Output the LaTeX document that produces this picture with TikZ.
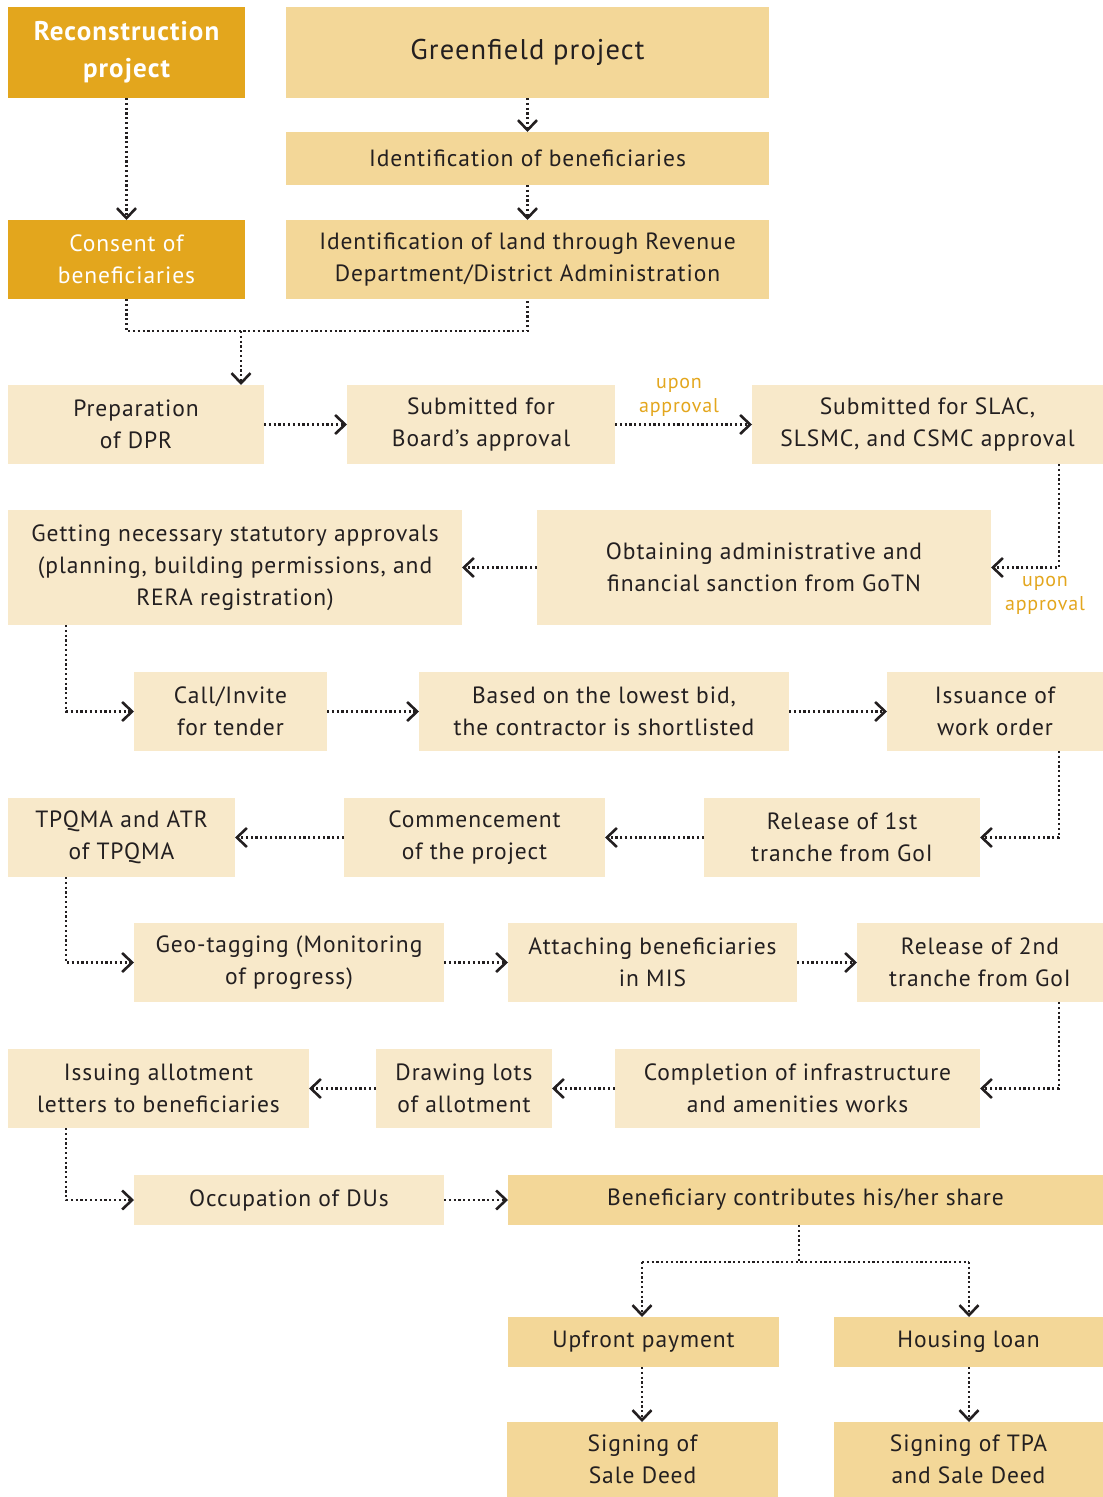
\documentclass[tikz,border=0pt]{standalone}
\usepackage{fontspec}
\setmainfont{PT Sans}[LetterSpace=4]
\usetikzlibrary{arrows.meta}
\definecolor{dark}{HTML}{E3A61D}
\definecolor{mid}{HTML}{F3D798}
\definecolor{pale}{HTML}{F8E9CA}
\definecolor{ink}{HTML}{231F20}
\tikzset{
  x=1pt,y=-1pt,
  base/.style={inner sep=0pt, outer sep=0pt, align=center, text=ink,
    font=\fontsize{23.5}{32}\selectfont},
  palebox/.style={base, fill=pale},
  midbox/.style={base, fill=mid},
  darkbox/.style={base, fill=dark, text=white},
  dots/.style={draw=ink, line width=2.2pt, dash pattern=on 2.2pt off 2.6pt},
  arr/.style={dots, -{Straight Barb[length=10pt,width=19pt,line width=2.6pt]}},
  lbl/.style={text=dark, font=\fontsize{20}{24}\selectfont, align=center, inner sep=0pt}
}
\begin{document}
\begin{tikzpicture}
\useasboundingbox (0,0) rectangle (1103,1497);
% row 1
\node[darkbox, minimum width=237pt, minimum height=91pt, font=\fontsize{27}{37}\selectfont\bfseries] (recon) at (126.5,52.5) {Reconstruction\\project};
\node[midbox, minimum width=483pt, minimum height=91pt, font=\fontsize{28.5}{34}\selectfont] (green) at (527.5,52.5) {Greenfield project};
\node[midbox, minimum width=483pt, minimum height=53pt] (idben) at (527.5,158.5) {Identification of beneficiaries};
\node[midbox, minimum width=483pt, minimum height=79pt] (idland) at (527.5,259.5) {Identification of land through Revenue\\Department/District Administration};
\node[darkbox, minimum width=237pt, minimum height=79pt] (consent) at (126.5,259.5) {Consent of\\beneficiaries};
% row DPR
\node[palebox, minimum width=256pt, minimum height=79pt] (prep) at (136,424.5) {Preparation\\of DPR};
\node[palebox, minimum width=268pt, minimum height=79pt] (board) at (481,424.5) {Submitted for\\Board’s approval};
\node[palebox, minimum width=351pt, minimum height=79pt] (slac) at (927.5,424.5) {Submitted for SLAC,\\SLSMC, and CSMC approval};
% row approvals
\node[palebox, minimum width=454pt, minimum height=115pt] (stat) at (235,567.5) {Getting necessary statutory approvals\\(planning, building permissions, and\\RERA registration)};
\node[palebox, minimum width=454pt, minimum height=115pt] (obtain) at (764,567.5) {Obtaining administrative and\\financial sanction from GoTN};
% row tender
\node[palebox, minimum width=193pt, minimum height=79pt] (call) at (230.5,711.5) {Call/Invite\\for tender};
\node[palebox, minimum width=370pt, minimum height=79pt] (based) at (604,711.5) {Based on the lowest bid,\\the contractor is shortlisted};
\node[palebox, minimum width=216pt, minimum height=79pt] (issu) at (995,711.5) {Issuance of\\work order};
% row release 1
\node[palebox, minimum width=227pt, minimum height=79pt] (tpqma) at (121.5,837.5) {TPQMA and ATR\\of TPQMA};
\node[palebox, minimum width=261pt, minimum height=79pt] (comm) at (474.5,837.5) {Commencement\\of the project};
\node[palebox, minimum width=276pt, minimum height=79pt] (rel1) at (842,837.5) {Release of 1st\\tranche from GoI};
% row geo
\node[palebox, minimum width=310pt, minimum height=79pt] (geo) at (289,962.5) {Geo-tagging (Monitoring\\of progress)};
\node[palebox, minimum width=289pt, minimum height=79pt] (attach) at (652.5,962.5) {Attaching beneficiaries\\in MIS};
\node[palebox, minimum width=246pt, minimum height=79pt] (rel2) at (980,962.5) {Release of 2nd\\tranche from GoI};
% row allotment
\node[palebox, minimum width=301pt, minimum height=79pt] (issuing) at (158.5,1088.5) {Issuing allotment\\letters to beneficiaries};
\node[palebox, minimum width=176pt, minimum height=79pt] (drawing) at (464,1088.5) {Drawing lots\\of allotment};
\node[palebox, minimum width=365pt, minimum height=79pt] (compl) at (797.5,1088.5) {Completion of infrastructure\\and amenities works};
% row occupation
\node[palebox, minimum width=310pt, minimum height=50pt] (occ) at (289,1200) {Occupation of DUs};
\node[midbox, minimum width=595pt, minimum height=50pt] (benef) at (805.5,1200) {Beneficiary contributes his/her share};
% payment
\node[midbox, minimum width=271pt, minimum height=50pt] (upfront) at (643.5,1342) {Upfront payment};
\node[midbox, minimum width=269pt, minimum height=50pt] (housing) at (968.5,1342) {Housing loan};
\node[midbox, minimum width=271pt, minimum height=75pt] (sign1) at (642.5,1459.5) {Signing of\\Sale Deed};
\node[midbox, minimum width=269pt, minimum height=75pt] (sign2) at (968.5,1459.5) {Signing of TPA\\and Sale Deed};

% connectors top
\draw[arr] (recon.south) -- (consent.north);
\draw[arr] (green.south) -- (idben.north);
\draw[arr] (idben.south) -- (idland.north);
\coordinate (jl) at (126.5,331);
\coordinate (jr) at (527.5,331);
\coordinate (j1) at (241,331);
\draw[dots] (consent.south) -- (jl) -- (jr) -- (idland.south);
\draw[arr] (j1) -- (j1 |- prep.north);
\draw[arr] (prep.east) -- (board.west);
\draw[arr] (board.east) -- (slac.west);
\node[lbl] (up1) at (679,397) {upon\\approval};
% slac -> obtain
\coordinate (s1) at (1059,464);
\coordinate (s2) at (1059,567.5);
\draw[arr] (s1) -- (s2) -- (obtain.east);
\node[lbl] (up2) at (1045,595) {upon\\approval};
\draw[arr] (obtain.west) -- (stat.east);
% stat -> call
\coordinate (t1) at (66,625);
\coordinate (t2) at (66,711.5);
\draw[arr] (t1) -- (t2) -- (call.west);
\draw[arr] (call.east) -- (based.west);
\draw[arr] (based.east) -- (issu.west);
% issu -> rel1
\coordinate (u1) at (1059,751);
\coordinate (u2) at (1059,837.5);
\draw[arr] (u1) -- (u2) -- (rel1.east);
\draw[arr] (rel1.west) -- (comm.east);
\draw[arr] (comm.west) -- (tpqma.east);
% tpqma -> geo
\coordinate (v1) at (66,877);
\coordinate (v2) at (66,962.5);
\draw[arr] (v1) -- (v2) -- (geo.west);
\draw[arr] (geo.east) -- (attach.west);
\draw[arr] (attach.east) -- (rel2.west);
% rel2 -> compl
\coordinate (w1) at (1059,1002);
\coordinate (w2) at (1059,1088.5);
\draw[arr] (w1) -- (w2) -- (compl.east);
\draw[arr] (compl.west) -- (drawing.east);
\draw[arr] (drawing.west) -- (issuing.east);
% issuing -> occ
\coordinate (z1) at (66,1128);
\coordinate (z2) at (66,1200);
\draw[arr] (z1) -- (z2) -- (occ.west);
\draw[arr] (occ.east) -- (benef.west);
% branch
\coordinate (b0) at (799,1225);
\coordinate (b1) at (799,1262);
\coordinate (bl) at (642,1262);
\coordinate (br) at (969,1262);
\draw[dots] (b0) -- (b1);
\draw[dots] (bl) -- (br);
\draw[arr] (bl) -- (bl |- upfront.north);
\draw[arr] (br) -- (br |- housing.north);
\coordinate (p1) at (642,1367);
\coordinate (p2) at (969,1367);
\draw[arr] (p1) -- (p1 |- sign1.north);
\draw[arr] (p2) -- (p2 |- sign2.north);
\end{tikzpicture}
\end{document}
